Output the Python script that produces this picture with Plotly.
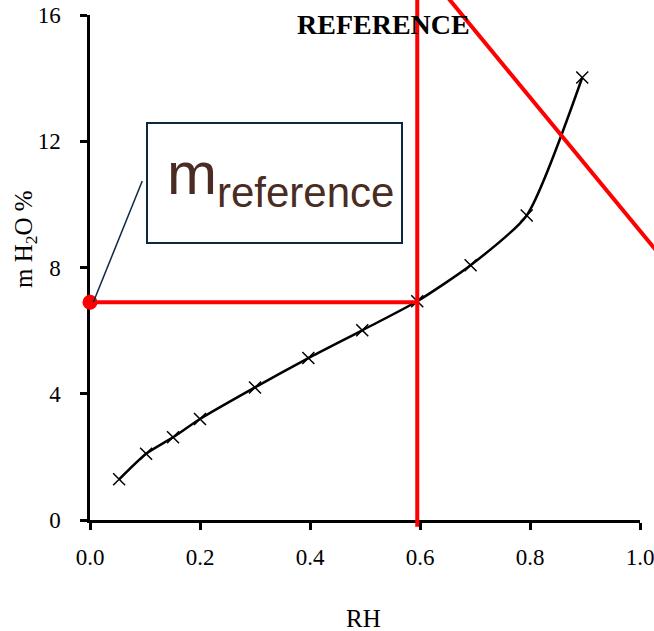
import plotly.graph_objects as go

# ---- data ----
rh = [0.053, 0.102, 0.151, 0.200, 0.300, 0.397, 0.495, 0.595, 0.692, 0.794, 0.895]
m_h2o = [1.29, 2.10, 2.62, 3.20, 4.20, 5.13, 6.01, 6.93, 8.07, 9.65, 14.02]

ref_rh = 0.0          # reference point (red dot) on the y axis
ref_m = 6.9           # reference water content
sel_rh = 0.595        # vertical red line position
vert_m = [-0.21, 17.2]
diag_rh = [0.62, 1.06]
diag_m = [17.2, 7.89]

x_ticks = [0.0, 0.2, 0.4, 0.6, 0.8, 1.0]
x_tick_text = ["0.0", "0.2", "0.4", "0.6", "0.8", "1.0"]
y_ticks = [0, 4, 8, 12, 16]

# ---- layout geometry (pixels) ----
W, H = 654, 631
PX_L, PX_R = 90, 640      # x = 0 .. 1
PX_B, PX_T = 520, 15      # y = 0 .. 16
X_MIN, X_MAX = 0.0, 1.0
Y_MIN, Y_MAX = 0.0, 16.0

x_per_px = (X_MAX - X_MIN) / (PX_R - PX_L)
y_per_px = (Y_MAX - Y_MIN) / (PX_B - PX_T)
x2_range = [X_MIN - PX_L * x_per_px, X_MAX + (W - PX_R) * x_per_px]
y2_range = [Y_MIN - (H - PX_B) * y_per_px, Y_MAX + PX_T * y_per_px]

SERIF = "Liberation Serif, Times New Roman, serif"
NAVY = "#0e2841"
BROWN = "#4a2c22"

fig = go.Figure()

fig.add_trace(go.Scatter(
    x=rh, y=m_h2o, mode="lines+markers",
    line=dict(color="black", width=2.5, shape="spline", smoothing=0.6),
    marker=dict(symbol="x-thin", size=12, color="black",
                line=dict(width=1.5, color="black")),
    xaxis="x", yaxis="y", hoverinfo="skip"))

red = dict(color="#ff0000", width=4)
fig.add_trace(go.Scatter(x=[sel_rh, sel_rh], y=vert_m, mode="lines", line=red,
                         xaxis="x2", yaxis="y2", hoverinfo="skip"))
fig.add_trace(go.Scatter(x=[ref_rh, sel_rh], y=[ref_m, ref_m], mode="lines", line=red,
                         xaxis="x2", yaxis="y2", hoverinfo="skip"))
fig.add_trace(go.Scatter(x=diag_rh, y=diag_m, mode="lines", line=red,
                         xaxis="x2", yaxis="y2", hoverinfo="skip"))
fig.add_trace(go.Scatter(x=[ref_rh], y=[ref_m], mode="markers",
                         marker=dict(color="#ff0000", size=15),
                         xaxis="x2", yaxis="y2", hoverinfo="skip"))

axis_common = dict(showgrid=False, zeroline=False, showline=True, linecolor="black",
                   linewidth=2.5, ticks="outside", ticklen=7, tickwidth=2.5,
                   tickcolor="black", ticklabeloverflow="allow",
                   tickfont=dict(family=SERIF, size=23, color="black"))

fig.update_layout(
    width=W, height=H, autosize=False,
    margin=dict(l=0, r=0, t=0, b=0),
    paper_bgcolor="white", plot_bgcolor="rgba(0,0,0,0)",
    showlegend=False,
    xaxis=dict(domain=[PX_L / W, PX_R / W], range=[X_MIN, X_MAX], anchor="y",
               tickvals=x_ticks, ticktext=x_tick_text, ticklabelstandoff=8,
               automargin=False, **axis_common),
    yaxis=dict(domain=[(H - PX_B) / H, (H - PX_T) / H], range=[Y_MIN, Y_MAX], anchor="x",
               tickvals=y_ticks, ticklabelstandoff=15, automargin=False, **axis_common),
    xaxis2=dict(domain=[0, 1], range=x2_range, anchor="y2", visible=False),
    yaxis2=dict(domain=[0, 1], range=y2_range, anchor="x2", visible=False),
)

# callout box and leader line
fig.add_shape(type="rect", xref="paper", yref="paper",
              x0=147 / W, x1=402 / W, y0=1 - 243 / H, y1=1 - 123 / H,
              line=dict(color=NAVY, width=2), fillcolor="rgba(0,0,0,0)")
fig.add_shape(type="line", xref="x2", yref="y2",
              x0=ref_rh + 0.006, y0=ref_m, x1=0.095, y1=10.74,
              line=dict(color=NAVY, width=1.5))

fig.add_annotation(text="m<sub>reference</sub>", xref="paper", yref="paper",
                   x=165 / W, y=1 - 178 / H, xanchor="left", yanchor="middle",
                   showarrow=False,
                   font=dict(family="Liberation Sans, Arial, sans-serif", size=60, color=BROWN))

# title and axis titles
fig.add_annotation(text="<b>REFERENCE</b>", xref="paper", yref="paper",
                   x=383 / W, y=1 - 25 / H, xanchor="center", yanchor="middle",
                   showarrow=False, font=dict(family=SERIF, size=28, color="black"))
fig.add_annotation(text="RH", xref="paper", yref="paper",
                   x=363 / W, y=1 - 618 / H, xanchor="center", yanchor="middle",
                   showarrow=False, font=dict(family=SERIF, size=25, color="black"))
fig.add_annotation(text="m H<sub>2</sub>O %", xref="paper", yref="paper",
                   x=25 / W, y=1 - 239 / H, xanchor="center", yanchor="middle",
                   textangle=-90, showarrow=False,
                   font=dict(family=SERIF, size=25, color="black"))

fig.write_html("out.html")
